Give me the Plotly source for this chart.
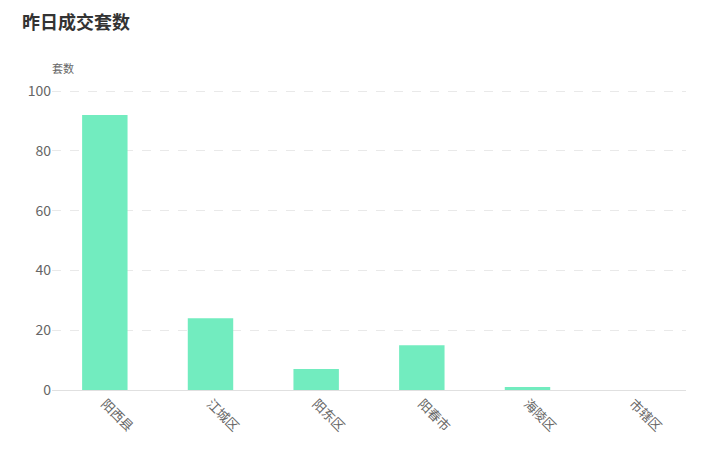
import plotly.graph_objects as go

categories = ["阳西县", "江城区", "阳东区", "阳春市", "海陵区", "市辖区"]
values = [92, 24, 7, 15, 1, 0]
y_ticks = [0, 20, 40, 60, 80, 100]

FONT = "Noto Sans CJK SC, Microsoft YaHei, sans-serif"

fig = go.Figure(go.Bar(
    x=categories, y=values,
    marker=dict(color="#72ECBF", line=dict(width=0)),
    width=0.43,
))

fig.update_layout(
    width=704, height=457,
    margin=dict(l=44, r=26, t=82, b=75, autoexpand=False),
    paper_bgcolor="white", plot_bgcolor="white",
    showlegend=False,
    font=dict(family=FONT, color="#666"),
    title=dict(text="<b>昨日成交套数</b>", x=14/704, xref="container", xanchor="left",
               y=1, yref="container", yanchor="top", pad=dict(t=8),
               font=dict(size=18, color="#333", family=FONT)),
    annotations=[dict(text="套数", xref="paper", yref="paper", x=11/634, y=1,
                      xanchor="center", yanchor="bottom", yshift=12, showarrow=False,
                      font=dict(size=11, color="#666", family=FONT))],
)
fig.update_xaxes(
    type="category", tickangle=45, showgrid=False, automargin=False,
    showline=True, linecolor="#e0e0e0", linewidth=1,
    ticks="", tickfont=dict(size=13, color="#666"),
)
fig.update_yaxes(
    range=[0, 100.4], tickvals=y_ticks, showgrid=True, automargin=False,
    gridcolor="#e9e9e9", griddash="dash", gridwidth=1,
    zeroline=False, showline=False, ticks="", ticklen=0,
    tickfont=dict(size=14, color="#666"),
)

fig.write_html("out.html")
